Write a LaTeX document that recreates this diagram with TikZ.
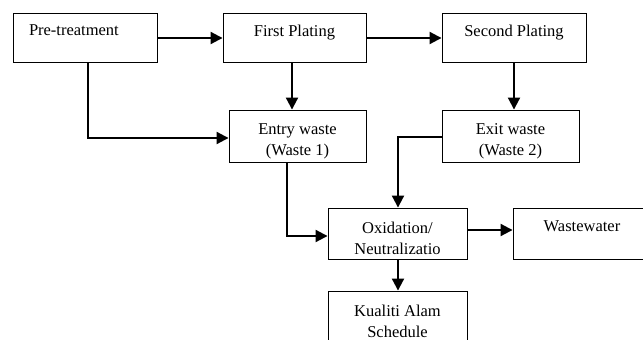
\documentclass[tikz,border=0pt]{standalone}
\usepackage{fontspec}
\setmainfont{Liberation Serif}
\usetikzlibrary{arrows.meta}

\begin{document}
\begin{tikzpicture}[x=1pt,y=-1pt,
    caja/.style={draw, line width=0.9pt, align=center, inner sep=0pt,
                 font=\fontsize{16.5}{21}\selectfont},
    una/.style={caja, text depth=14pt},
    flecha/.style={line width=2pt, -{Triangle[length=12pt,width=12pt]}}] %Diagrama del proceso de chapado
    \useasboundingbox (0,0) rectangle (643,340);
    \clip (0,0) rectangle (643,340);

    % fila de arriba
    \node[una, minimum width=144pt, minimum height=49pt, align=left, text width=112pt] (pre) at (85,37.5) {Pre-treatment};
    \node[una, minimum width=143pt, minimum height=49pt] (first) at (294.5,37.5) {First Plating};
    \node[una, minimum width=144pt, minimum height=49pt] (second) at (514,37.5) {Second Plating};

    % residuos
    \node[caja, minimum width=137pt, minimum height=52pt] (entry) at (297.5,136) {\rule{0pt}{21pt}Entry waste\\(Waste 1)};
    \node[caja, minimum width=137pt, minimum height=52pt] (exit) at (510.5,136) {\rule{0pt}{21pt}Exit waste\\(Waste 2)};

    % tratamiento
    \node[caja, minimum width=139pt, minimum height=51pt] (oxid) at (397.5,233.5) {\rule{0pt}{21pt}Oxidation/\\Neutralizatio};
    \node[una, minimum width=138pt, minimum height=51pt] (waste) at (582,233.5) {Wastewater};
    \node[caja, minimum width=139pt, minimum height=52pt] (kual) at (397.5,317) {\rule{0pt}{21pt}Kualiti Alam\\Schedule};

    \draw[flecha] (pre.east |- 0,38) -- (first.west |- 0,38);
    \draw[flecha] (first.east |- 0,38) -- (second.west |- 0,38);
    \draw[flecha] ([xshift=-2.5pt]first.south) -- ([xshift=-2.5pt]first.south |- entry.north);
    \draw[flecha] (second.south) -- (second.south |- exit.north);
    \draw[flecha] ([xshift=3pt]pre.south) |- ([yshift=-2pt]entry.west);
    \draw[flecha] ([yshift=-1pt]exit.west) -| ([xshift=0.5pt]oxid.north);
    \draw[flecha] ([xshift=-10.5pt]entry.south) |- ([yshift=-2.5pt]oxid.west);
    \draw[flecha] (oxid.east |- 0,230) -- (waste.west |- 0,230);
    \draw[flecha] ([xshift=0.5pt]oxid.south) -- ([xshift=0.5pt]kual.north);
\end{tikzpicture}
\end{document}
